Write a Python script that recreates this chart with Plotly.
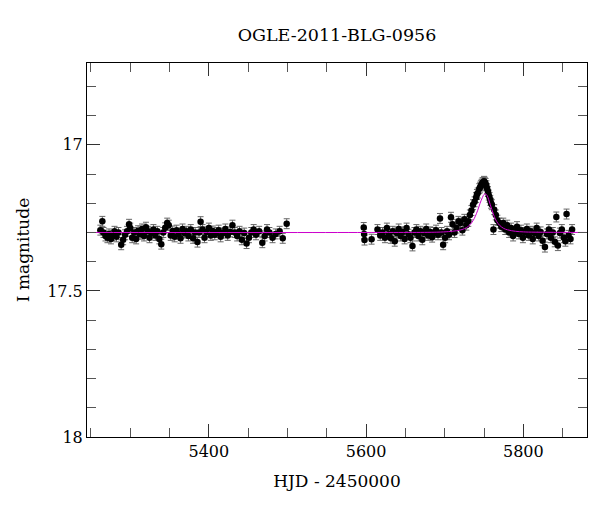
import plotly.graph_objects as go

# ---- data ----
left_day = [5262.0, 5264.5, 5266.0, 5268.5, 5271.0, 5273.0, 5275.5, 5277.5, 5280.0, 5282.5,
            5285.0, 5288.5, 5291.0, 5293.5, 5296.0, 5298.5, 5300.0, 5302.5, 5305.0, 5307.5,
            5310.0, 5312.5, 5315.0, 5317.5, 5320.0, 5322.5, 5324.5, 5327.0, 5329.5, 5332.0,
            5334.5, 5337.0, 5339.5, 5342.0, 5344.5, 5347.0, 5349.0, 5351.5, 5354.0, 5356.5,
            5359.0, 5361.5, 5364.0, 5366.5, 5369.0, 5371.5, 5374.0, 5377.0, 5380.0, 5382.5,
            5385.5, 5387.5, 5389.5, 5392.0, 5394.5, 5397.0, 5400.0, 5402.5, 5405.0, 5407.5,
            5410.0, 5412.5, 5415.0, 5418.0, 5421.0, 5424.0, 5427.0, 5430.0, 5433.0, 5436.0,
            5439.0, 5442.0, 5445.0, 5448.0, 5451.0, 5454.0, 5457.0, 5460.0, 5464.0, 5468.0,
            5471.0, 5474.0, 5477.0, 5481.0, 5485.0, 5490.0, 5494.0, 5499.0]
left_mag = [17.292, 17.262, 17.300, 17.312, 17.318, 17.305, 17.322, 17.310, 17.296, 17.315,
            17.300, 17.342, 17.325, 17.308, 17.296, 17.272, 17.285, 17.318, 17.300, 17.322,
            17.294, 17.306, 17.288, 17.312, 17.282, 17.296, 17.318, 17.302, 17.290, 17.310,
            17.296, 17.322, 17.340, 17.300, 17.284, 17.268, 17.275, 17.310, 17.295, 17.315,
            17.292, 17.305, 17.320, 17.288, 17.302, 17.296, 17.312, 17.290, 17.320, 17.300,
            17.333, 17.300, 17.263, 17.290, 17.318, 17.298, 17.285, 17.310, 17.295, 17.308,
            17.300, 17.292, 17.315, 17.302, 17.288, 17.310, 17.298, 17.275, 17.300, 17.312,
            17.296, 17.325, 17.302, 17.338, 17.318, 17.300, 17.290, 17.308, 17.296, 17.335,
            17.312, 17.290, 17.300, 17.318, 17.305, 17.296, 17.320, 17.270]

right_day = [5597.0, 5597.5, 5598.0, 5607.0, 5614.5, 5618.0, 5621.0, 5624.0, 5626.5, 5629.0,
             5631.5, 5634.0, 5636.5, 5639.0, 5641.5, 5644.0, 5646.5, 5649.0, 5651.5, 5654.0,
             5656.5, 5659.0, 5661.5, 5664.0, 5666.5, 5669.0, 5671.5, 5674.0, 5676.5, 5679.0,
             5681.5, 5684.0, 5686.5, 5689.0, 5691.5, 5694.0, 5696.0, 5698.0, 5700.5, 5703.0,
             5705.5, 5708.0, 5710.0, 5712.5, 5715.0, 5717.5, 5720.0, 5722.5, 5725.0, 5727.5,
             5730.0, 5732.0, 5734.0, 5736.0, 5738.0, 5740.0, 5741.0, 5742.0, 5744.0, 5745.0,
             5746.0, 5747.0, 5748.0, 5749.0, 5750.0, 5751.0, 5752.0, 5753.0, 5754.0, 5755.0,
             5756.0, 5757.0, 5758.0, 5759.0, 5760.0, 5762.0, 5763.0, 5765.0, 5767.0, 5769.5,
             5772.0, 5774.5, 5777.0, 5779.5, 5782.0, 5784.5, 5787.0, 5789.5, 5792.0, 5794.5,
             5797.0, 5799.5, 5802.0, 5804.5, 5807.0, 5809.5, 5812.0, 5814.5, 5817.0, 5819.5,
             5822.0, 5824.5, 5827.5, 5830.0, 5832.5, 5835.0, 5837.5, 5840.0, 5842.0, 5844.0,
             5846.5, 5849.0, 5851.5, 5853.5, 5855.0, 5857.5, 5860.0, 5862.0]
right_mag = [17.283, 17.305, 17.326, 17.323, 17.290, 17.310, 17.300, 17.318, 17.285, 17.305,
             17.320, 17.296, 17.330, 17.302, 17.288, 17.312, 17.298, 17.322, 17.285, 17.306,
             17.318, 17.346, 17.300, 17.290, 17.312, 17.296, 17.325, 17.302, 17.288, 17.310,
             17.298, 17.316, 17.300, 17.292, 17.308, 17.252, 17.300, 17.342, 17.318, 17.296,
             17.308, 17.248, 17.272, 17.300, 17.285, 17.262, 17.268, 17.292, 17.255, 17.275,
             17.262, 17.240, 17.225, 17.205, 17.195, 17.180, 17.170, 17.165, 17.150, 17.145,
             17.140, 17.135, 17.130, 17.130, 17.125, 17.128, 17.132, 17.140, 17.150, 17.160,
             17.172, 17.180, 17.190, 17.200, 17.205, 17.290, 17.222, 17.240, 17.258, 17.268,
             17.280, 17.268, 17.290, 17.275, 17.300, 17.285, 17.312, 17.296, 17.280, 17.305,
             17.292, 17.318, 17.300, 17.288, 17.310, 17.296, 17.322, 17.302, 17.285, 17.312,
             17.298, 17.328, 17.350, 17.305, 17.290, 17.318, 17.300, 17.332, 17.247, 17.345,
             17.302, 17.290, 17.318, 17.330, 17.237, 17.310, 17.322, 17.290]

model_day = [5245, 5600, 5690, 5705, 5715, 5722, 5728, 5732, 5736, 5739, 5742, 5745, 5748,
             5750, 5752, 5754, 5756, 5758, 5760, 5763, 5766, 5770, 5775, 5780, 5790, 5800,
             5815, 5881]
model_mag = [17.300, 17.300, 17.299, 17.297, 17.294, 17.290, 17.283, 17.274, 17.260, 17.244,
             17.224, 17.200, 17.180, 17.170, 17.168, 17.174, 17.188, 17.205, 17.222, 17.245,
             17.262, 17.276, 17.286, 17.291, 17.296, 17.298, 17.299, 17.300]

err_typical = 0.017

x_ticks = [5400, 5600, 5800]
y_ticks = [17, 17.5, 18]
y_ticktext = ["17", "17.5", "18"]

FONT = "DejaVu Serif"
W, H = 592, 504  # page body has an 8px margin

fig = go.Figure()
days = left_day + right_day
mags = left_mag + right_mag
fig.add_trace(go.Scatter(
    x=days, y=mags, mode="markers",
    marker=dict(color="black", size=6.5),
    error_y=dict(type="constant", value=err_typical, color="#666666", thickness=1, width=3),
    showlegend=False))
fig.add_trace(go.Scatter(
    x=model_day, y=model_mag, mode="lines", line=dict(color="#cc00cc", width=1, shape="spline"),
    showlegend=False))

axis_common = dict(showline=True, linecolor="black", linewidth=1, mirror="ticks",
                   ticks="inside", ticklen=13, tickcolor="#333333", tickwidth=1,
                   showgrid=False, zeroline=False, automargin=False,
                   tickfont=dict(family=FONT, size=16, color="black"))

fig.update_xaxes(range=[5245, 5881], tickvals=x_ticks,
                 minor=dict(dtick=50, tick0=5250, ticks="inside", ticklen=9, tickcolor="#555555", showgrid=False),
                 title=dict(text="HJD - 2450000", font=dict(family=FONT, size=17, color="black"), standoff=14),
                 **axis_common)
fig.update_yaxes(range=[18, 16.72], tickvals=y_ticks, ticktext=y_ticktext,
                 minor=dict(dtick=0.1, tick0=17, ticks="inside", ticklen=9, tickcolor="#555555", showgrid=False),
                 title=dict(text="I magnitude", font=dict(family=FONT, size=17, color="black"), standoff=13),
                 **axis_common)

fig.update_layout(
    width=W, height=H,
    margin=dict(l=79, r=13, t=55, b=75),
    plot_bgcolor="white", paper_bgcolor="white",
    title=dict(text="OGLE-2011-BLG-0956", x=329/W, xanchor="center",
               y=1 - 27/H, yanchor="middle", yref="container",
               font=dict(family=FONT, size=17.5, color="black")),
)

fig.write_html("out.html")
